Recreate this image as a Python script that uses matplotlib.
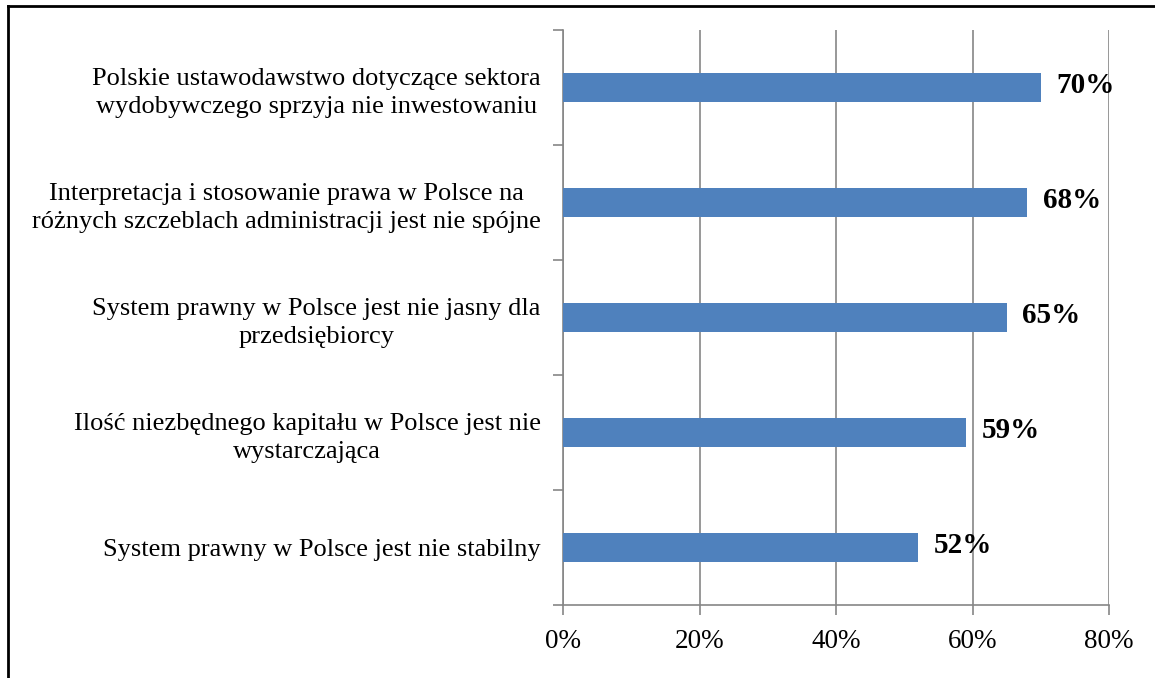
import matplotlib.pyplot as plt
from matplotlib.lines import Line2D
from matplotlib.ticker import MultipleLocator, FuncFormatter

plt.rcParams['font.family'] = ['Liberation Serif', 'DejaVu Serif']

categories = [
    'System prawny w Polsce jest nie stabilny',
    'Ilość niezbędnego kapitału w Polsce jest nie\nwystarczająca',
    'System prawny w Polsce jest nie jasny dla\nprzedsiębiorcy',
    'Interpretacja i stosowanie prawa w Polsce na\nróżnych szczeblach administracji jest nie spójne',
    'Polskie ustawodawstwo dotyczące sektora\nwydobywczego sprzyja nie inwestowaniu',
]
values = [52, 59, 65, 68, 70]

fig = plt.figure(figsize=(11.55, 6.78), dpi=100)
ax = fig.add_axes([563 / 1155, 1 - 605 / 678, (1109 - 563) / 1155, 575 / 678])

pos = range(len(categories))
ax.barh(pos, values, height=0.25, color='#4f81bd', zorder=3)
for p, v in zip(pos, values):
    ax.text(v + 2.3, p + 0.02, f'{v}%', va='center', ha='left',
            fontsize=21, fontweight='bold', zorder=4)

ax.set_xlim(0, 80)
ax.set_ylim(-0.5, len(categories) - 0.5)
ax.xaxis.set_major_locator(MultipleLocator(20))
ax.xaxis.set_major_formatter(FuncFormatter(lambda x, _: f'{x:.0f}%'))
ax.set_yticks(pos)
ax.set_yticklabels(categories, multialignment='center', linespacing=1.35)
ax.set_yticks([i - 0.5 for i in range(len(categories) + 1)], minor=True)

ax.grid(axis='x', color='#868686', linewidth=1.2, zorder=0)
for s in ['top', 'right']:
    ax.spines[s].set_visible(False)
for s in ['left', 'bottom']:
    ax.spines[s].set_color('#868686')
    ax.spines[s].set_linewidth(1.2)

ax.tick_params(axis='y', which='major', length=0, pad=16, labelsize=19)
ax.tick_params(axis='y', which='minor', length=7, color='#868686', width=1.2)
ax.tick_params(axis='x', length=7, color='#868686', width=1.2, pad=10, labelsize=19.5)

# ramka wykresu (tylko lewa i górna krawędź widoczna)
fig.add_artist(Line2D([8 / 1155, 8 / 1155], [0, 1 - 6 / 678], color='black', linewidth=2, transform=fig.transFigure))
fig.add_artist(Line2D([8 / 1155, 1], [1 - 6 / 678, 1 - 6 / 678], color='black', linewidth=2, transform=fig.transFigure))

fig.savefig('out.png', dpi=100)
